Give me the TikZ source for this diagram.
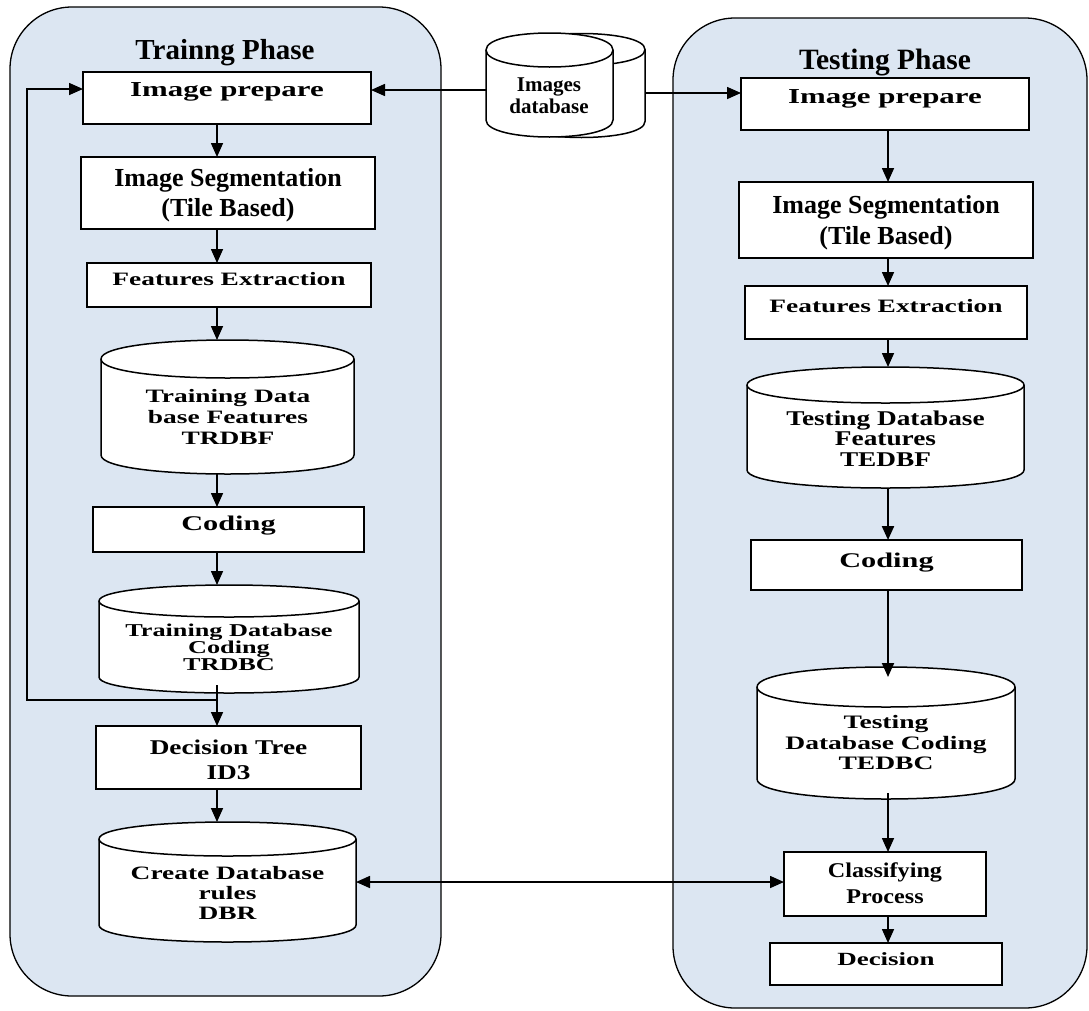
\documentclass[tikz,border=0pt]{standalone}
\usepackage{fontspec}
\setmainfont{Liberation Serif}
\newfontfamily\wideA{Liberation Serif}[FakeStretch=1.45]
\newfontfamily\wideB{Liberation Serif}[FakeStretch=1.3]
\newfontfamily\wideC{Liberation Serif}[FakeStretch=1.15]
\usetikzlibrary{arrows.meta,calc}
\definecolor{panelbg}{RGB}{220,230,242}
\newcommand\fs[2]{\fontsize{#1}{#2}\selectfont\bfseries}
% #1 name, #2 cx, #3 cy, #4 width, #5 height, #6 ellipse y-radius
\newcommand{\dbcyl}[6]{%
  \pgfmathsetmacro\cxa{#2-#4/2}%
  \pgfmathsetmacro\cxb{#2+#4/2}%
  \pgfmathsetmacro\cyt{#3-#5/2+#6}%
  \pgfmathsetmacro\cyb{#3+#5/2-#6}%
  \pgfmathsetmacro\ck{4/3*#6}%
  \path[cylline] (\cxa,\cyt) -- (\cxa,\cyb) .. controls +(0,\ck) and +(0,\ck) .. (\cxb,\cyb) -- (\cxb,\cyt) .. controls +(0,-\ck) and +(0,-\ck) .. (\cxa,\cyt) -- cycle;
  \draw[cylline, fill=none] (\cxa,\cyt) .. controls +(0,\ck) and +(0,\ck) .. (\cxb,\cyt);
  \node[inner sep=0pt, outer sep=0pt, minimum width=#4pt, minimum height=#5pt] (#1) at (#2,#3) {};
}
\begin{document}
\begin{tikzpicture}[x=1pt,y=-1pt,
  panel/.style={draw=black, line width=1.3pt, fill=panelbg, rounded corners=62pt},
  box/.style={draw=black, line width=1.7pt, fill=white, inner sep=0pt, outer sep=0pt},
  lbl/.style={inner sep=0pt, align=center, text=black},
  arr/.style={line width=1.6pt, -{Triangle[length=14pt,width=12pt]}},
  darr/.style={line width=1.6pt, {Triangle[length=14pt,width=12pt]}-{Triangle[length=14pt,width=12pt]}},
  cylline/.style={draw=black, line width=1.5pt, fill=white},
]
\useasboundingbox (0,0) rectangle (1089,1010);
\fill[white] (0,0) rectangle (1089,1010);

% panels
\path[panel] (10,7) rectangle (441,996);
\path[panel] (673,18) rectangle (1087,1008);

% titles
\node[lbl, font=\fs{29}{32}] (t1) at (225,53) {Trainng Phase};
\node[lbl, font=\fs{29.5}{32}] (t2) at (885,63) {Testing Phase};

% images database (two stacked cylinders)
\dbcyl{imgB}{581.5}{85.5}{127}{104}{16}
\dbcyl{imgF}{549.5}{85}{127}{104}{17}
\node[lbl, font=\fs{21}{22}] (imgT) at (549,96) {Images\\database};

% column reference coordinates
\coordinate (colL) at (217,0);
\coordinate (colR) at (888,0);

% ---------------- Training column ----------------
\node[box, minimum width=288pt, minimum height=52pt] (ipL) at (227,98) {};
\node[lbl, font=\wideA\fs{21.3}{25}] (ipLt) at (227,92) {Image prepare};

\node[box, minimum width=294pt, minimum height=72pt] (segL) at (228,193) {};
\node[lbl, font=\fs{26}{30}] (segLt) at (228,195) {Image Segmentation\\(Tile Based)};

\node[box, minimum width=284pt, minimum height=44pt] (feL) at (229,285) {};
\node[lbl, font=\wideA\fs{18.9}{22}] (feLt) at (229,279) {Features Extraction};

\dbcyl{trdbf}{227.5}{407}{253}{134}{19}
\node[lbl, font=\wideA\fs{18.9}{21}] (trdbft) at (228,417) {Training Data\\base Features\\TRDBF};

\node[box, minimum width=271pt, minimum height=45pt] (codL) at (228.5,529.5) {};
\node[lbl, font=\wideA\fs{20.9}{25}] (codLt) at (228.5,526) {Coding};

\dbcyl{trdbc}{229}{639}{260}{108}{16}
\node[lbl, font=\wideA\fs{18.1}{16.5}] (trdbct) at (229,647) {Training Database\\Coding\\TRDBC};

\node[box, minimum width=265pt, minimum height=63pt] (dt) at (228.5,757.5) {};
\node[lbl, font=\wideB\fs{21}{25}] (dtt) at (228.5,759.5) {Decision Tree\\ID3};

\dbcyl{dbr}{227.5}{882}{257}{120}{17}
\node[lbl, font=\wideA\fs{18.9}{20}] (dbrt) at (227.5,893) {Create Database\\rules\\DBR};

% ---------------- Testing column ----------------
\node[box, minimum width=288pt, minimum height=52pt] (ipR) at (885,104) {};
\node[lbl, font=\wideA\fs{21.3}{25}] (ipRt) at (885,99) {Image prepare};

\node[box, minimum width=294pt, minimum height=76pt] (segR) at (886,220) {};
\node[lbl, font=\fs{26}{31}] (segRt) at (886,222.5) {Image Segmentation\\(Tile Based)};

\node[box, minimum width=282pt, minimum height=53pt] (feR) at (886,312.5) {};
\node[lbl, font=\wideA\fs{18.9}{22}] (feRt) at (886,306) {Features Extraction};

\dbcyl{tedbf}{885.5}{427.5}{277}{121}{18}
\node[lbl, font=\wideB\fs{21}{20.5}] (tedbft) at (885.5,438.5) {Testing Database\\Features\\TEDBF};

\node[box, minimum width=271pt, minimum height=50pt] (codR) at (886.5,565) {};
\node[lbl, font=\wideA\fs{20.9}{25}] (codRt) at (886.5,563) {Coding};

\dbcyl{tedbc}{886}{733}{258}{132}{20}
\node[lbl, font=\wideA\fs{19}{20.5}] (tedbct) at (886,742.5) {Testing\\Database Coding\\TEDBC};

\node[box, minimum width=202pt, minimum height=64pt] (cls) at (885,884) {};
\node[lbl, font=\wideC\fs{21}{26}] (clst) at (885,883) {Classifying\\Process};

\node[box, minimum width=232pt, minimum height=42pt] (dec) at (886,964) {};
\node[lbl, font=\wideA\fs{18.6}{22}] (dect) at (886,959) {Decision};

% ---------------- connectors ----------------
\coordinate (ipLin) at ($(ipL.east)+(0,-8)$);
\coordinate (ipRin) at ($(ipR.west)+(0,-11)$);
\draw[arr] (imgF.west |- ipLin) -- (ipLin);
\draw[arr] (imgB.east |- ipRin) -- (ipRin);

\draw[arr] (ipL.south -| colL) -- (segL.north -| colL);
\draw[arr] (segL.south -| colL) -- (feL.north -| colL);
\draw[arr] (feL.south -| colL) -- (trdbf.north -| colL);
\draw[arr] (trdbf.south -| colL) -- (codL.north -| colL);
\draw[arr] (codL.south -| colL) -- (trdbc.north -| colL);
\draw[arr] ($(trdbc.south -| colL)+(0,-8)$) -- (dt.north -| colL);
\draw[arr] (dt.south -| colL) -- (dbr.north -| colL);

% feedback loop
\coordinate (lpA) at (217,700);
\coordinate (lpB) at (27,700);
\coordinate (ipLloop) at ($(ipL.west)+(0,-9)$);
\draw[arr] (lpA) -- (lpB) |- (ipLloop);

\draw[arr] (ipR.south -| colR) -- (segR.north -| colR);
\draw[arr] (segR.south -| colR) -- (feR.north -| colR);
\draw[arr] (feR.south -| colR) -- (tedbf.north -| colR);
\draw[arr, line width=2.2pt] (tedbf.south -| colR) -- (codR.north -| colR);
\draw[arr, line width=2pt] (codR.south -| colR) -- ($(tedbc.north -| colR)+(0,10)$);
\draw[arr] ($(tedbc.south -| colR)+(0,-6)$) -- (cls.north -| colR);
\draw[arr] (cls.south -| colR) -- (dec.north -| colR);

\draw[darr] (dbr.east) -- (cls.west |- dbr.east);
\end{tikzpicture}
\end{document}
